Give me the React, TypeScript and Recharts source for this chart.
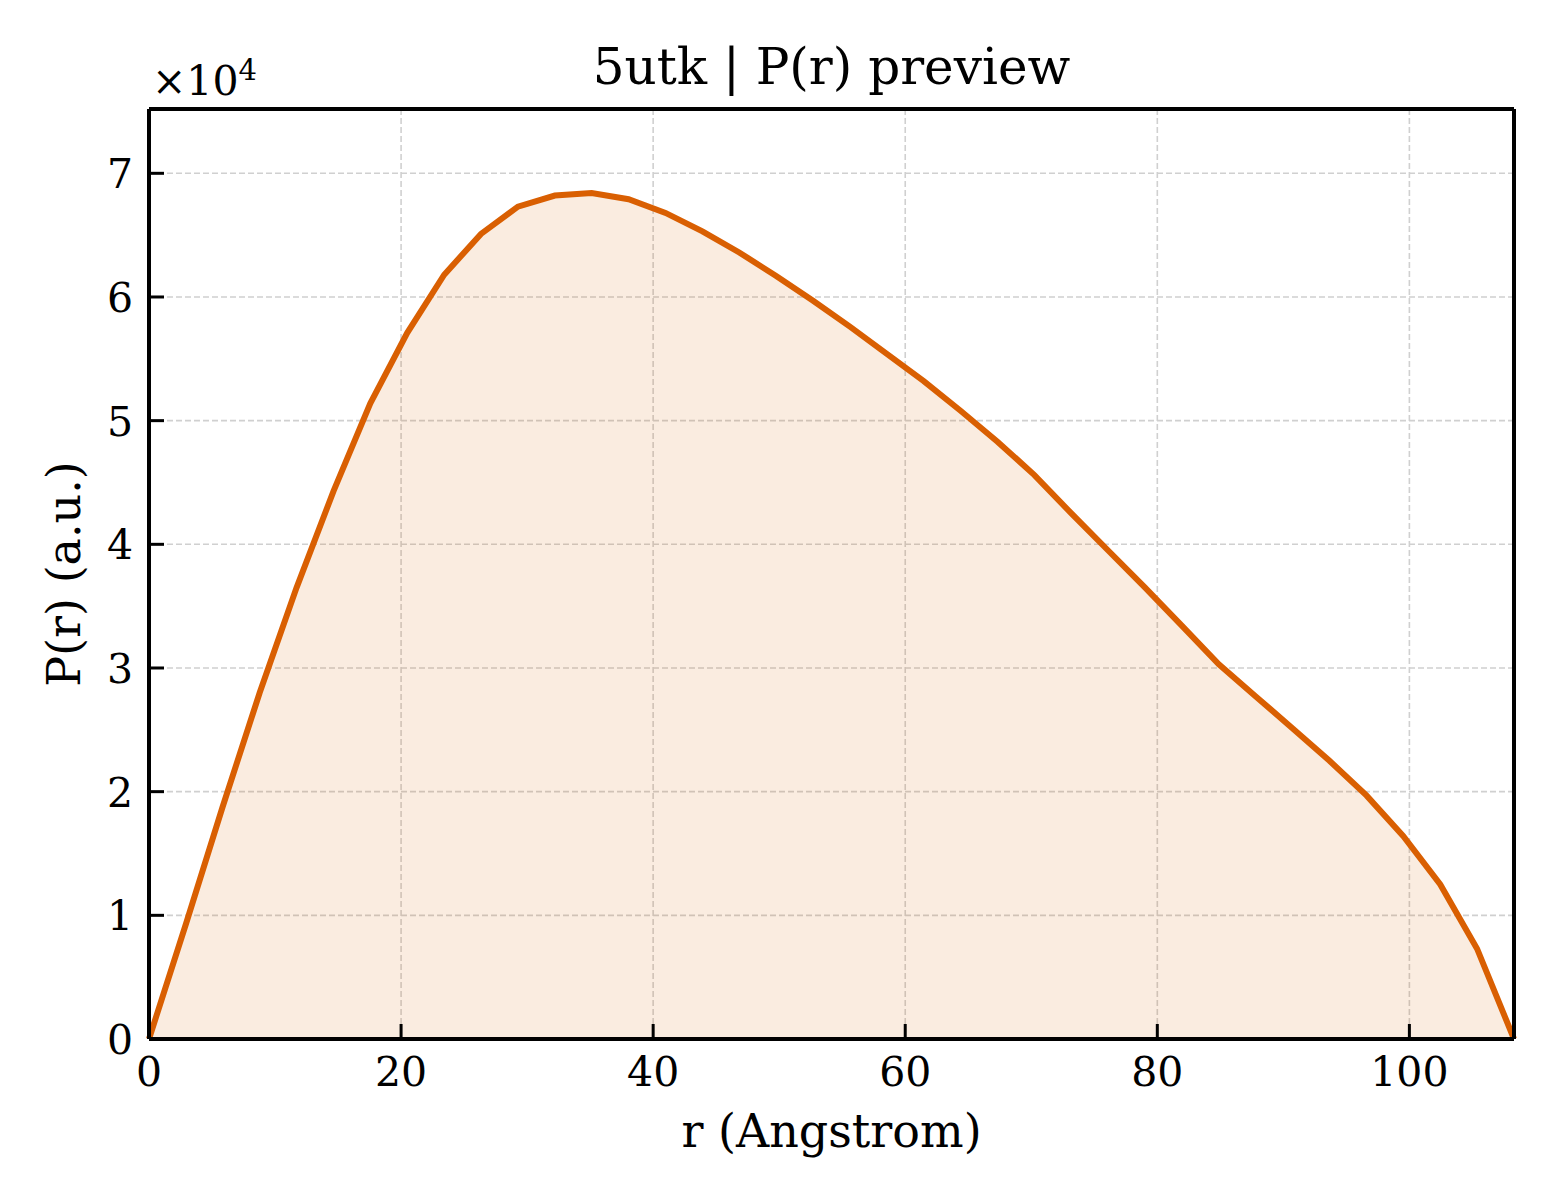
import { AreaChart, Area, CartesianGrid, XAxis, YAxis, Label } from "recharts";

// r in Angstrom, P(r) in arbitrary units
const rValues = [
  0, 2.93, 5.85, 8.78, 11.71, 14.64, 17.56, 20.49, 23.42, 26.34, 29.27, 32.2,
  35.12, 38.05, 40.98, 43.91, 46.83, 49.76, 52.69, 55.61, 58.54, 61.47, 64.39,
  67.32, 70.25, 73.18, 76.1, 79.03, 81.96, 84.88, 87.81, 90.74, 93.66, 96.59,
  99.52, 102.45, 105.37, 108.3,
];
const pValues = [
  0, 9300, 18800, 28000, 36500, 44300, 51400, 57100, 61800, 65100, 67300,
  68200, 68400, 67900, 66800, 65300, 63600, 61700, 59700, 57600, 55400, 53200,
  50800, 48300, 45600, 42500, 39500, 36500, 33400, 30300, 27700, 25100, 22500,
  19700, 16400, 12500, 7300, 0,
];
const xTicks = [0, 20, 40, 60, 80, 100];
const yTicks = [0, 10000, 20000, 30000, 40000, 50000, 60000, 70000];

const title = "5utk | P(r) preview";
const xLabel = "r (Angstrom)";
const yLabel = "P(r) (a.u.)";

const data = rValues.map((r, i) => ({ r, p: pValues[i] }));

const FONT = "'DejaVu Serif', serif";
const ORANGE = "#d95f02";
const TICK_LEN = 15;

function XTick(props: any) {
  const { x, y, payload } = props;
  return (
    <g>
      <line x1={x} y1={y} x2={x} y2={y - TICK_LEN} stroke="#000" strokeWidth={3} />
      <text x={x} y={y + 47} textAnchor="middle" fontFamily={FONT} fontSize={41} fill="#000">
        {payload.value}
      </text>
    </g>
  );
}

function YTick(props: any) {
  const { x, y, payload } = props;
  return (
    <g>
      <line x1={x} y1={y} x2={x + TICK_LEN} y2={y} stroke="#000" strokeWidth={3} />
      <text x={x - 16} y={y + 15} textAnchor="end" fontFamily={FONT} fontSize={41} fill="#000">
        {payload.value / 10000}
      </text>
    </g>
  );
}

export default function App() {
  return (
    <div style={{ position: "absolute", left: 0, top: 0, background: "#fff" }}>
      <AreaChart
        width={1560}
        height={1200}
        data={data}
        margin={{ top: 99, right: 36, bottom: 131, left: 89 }}
      >
        <CartesianGrid
          stroke="#d0d0d0"
          strokeWidth={1.6}
          strokeDasharray="6 3"
          verticalValues={xTicks.slice(1)}
          horizontalValues={yTicks.slice(1)}
        />
        <XAxis
          dataKey="r"
          type="number"
          domain={[0, 108.3]}
          ticks={xTicks}
          interval={0}
          height={30}
          tickSize={0}
          tickMargin={0}
          tickLine={false}
          tick={<XTick />}
          axisLine={{ stroke: "#000", strokeWidth: 4 }}
        >
          <Label
            content={(p: any) => (
              <text
                x={p.viewBox.x + p.viewBox.width / 2}
                y={1147}
                textAnchor="middle"
                fontFamily={FONT}
                fontSize={46}
                fill="#000"
              >
                {xLabel}
              </text>
            )}
          />
        </XAxis>
        <XAxis
          xAxisId="top"
          orientation="top"
          type="number"
          domain={[0, 108.3]}
          height={10}
          tick={false}
          tickLine={false}
          axisLine={{ stroke: "#000", strokeWidth: 4 }}
        >
          <Label
            content={(p: any) => (
              <text
                x={p.viewBox.x + p.viewBox.width / 2}
                y={84}
                textAnchor="middle"
                fontFamily={FONT}
                fontSize={50}
                fill="#000"
              >
                {title}
              </text>
            )}
          />
        </XAxis>
        <YAxis
          type="number"
          domain={[0, 75200]}
          ticks={yTicks}
          interval={0}
          width={60}
          tickSize={0}
          tickMargin={0}
          tickLine={false}
          tick={<YTick />}
          axisLine={{ stroke: "#000", strokeWidth: 4 }}
        >
          <Label
            content={(p: any) => {
              const cx = 80;
              const cy = p.viewBox.y + p.viewBox.height / 2;
              return (
                <g>
                  <text
                    x={cx}
                    y={cy}
                    transform={`rotate(-90, ${cx}, ${cy})`}
                    textAnchor="middle"
                    fontFamily={FONT}
                    fontSize={46}
                    fill="#000"
                  >
                    {yLabel}
                  </text>
                  <text x={152} y={95} fontFamily={FONT} fontSize={41} fill="#000">
                    ×10
                    <tspan fontSize={29} dy={-15}>
                      4
                    </tspan>
                  </text>
                </g>
              );
            }}
          />
        </YAxis>
        <YAxis
          yAxisId="right"
          orientation="right"
          type="number"
          domain={[0, 75200]}
          width={10}
          tick={false}
          tickLine={false}
          axisLine={{ stroke: "#000", strokeWidth: 4 }}
        />
        <Area
          type="linear"
          dataKey="p"
          stroke={ORANGE}
          strokeWidth={6}
          fill={ORANGE}
          fillOpacity={0.12}
          isAnimationActive={false}
          dot={false}
          activeDot={false}
        />
      </AreaChart>
    </div>
  );
}
